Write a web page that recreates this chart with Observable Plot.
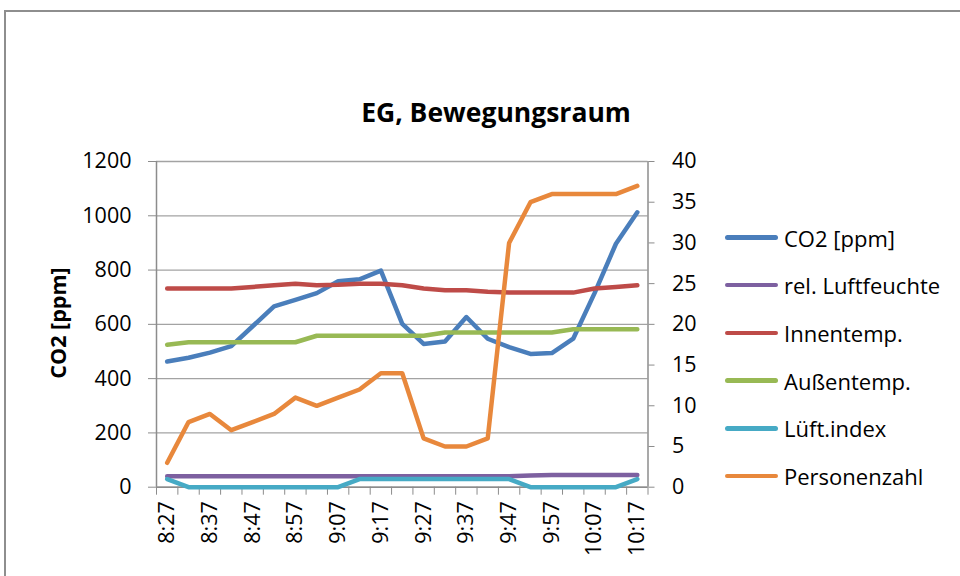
<!DOCTYPE html>
<html><head><meta charset="utf-8">
<script src="https://cdn.jsdelivr.net/npm/d3@7"></script>
<script src="https://cdn.jsdelivr.net/npm/@observablehq/plot@0.6"></script>
<style>
html,body{margin:0;padding:0;background:#fff;overflow:hidden}
#wrap{position:relative;width:960px;height:576px;overflow:hidden;font-family:"Open Sans",sans-serif;color:#000}
#frame{position:absolute;left:4px;top:10px;width:1200px;height:800px;border-top:2px solid #8e8e8e;border-left:2px solid #8e8e8e}
#chart{position:absolute;left:0;top:0}
#title{position:absolute;left:0;width:992px;top:99px;text-align:center;font-weight:700;font-size:26.5px;line-height:26px;white-space:nowrap}
#ylabel{position:absolute;left:57px;top:323px;transform:translate(-50%,-50%) rotate(-90deg);font-weight:700;font-size:21.5px;white-space:nowrap;line-height:21px}
.lg{position:absolute;left:725px;height:48px;display:flex;align-items:center;font-size:22px;white-space:nowrap}
.lg span.sw{display:inline-block;width:53px;height:4.5px;border-radius:3px;margin-right:6px}
</style></head>
<body>
<div id="wrap">
  <div id="frame"></div>
  <div id="chart"></div>
  <div id="title">EG, Bewegungsraum</div>
  <div id="ylabel">CO2 [ppm]</div>
  <div id="legend"></div>
</div>
<script>
// Categories (every 5 minutes)
const times = ["8:27","8:32","8:37","8:42","8:47","8:52","8:57","9:02","9:07","9:12","9:17","9:22","9:27","9:32","9:37","9:42","9:47","9:52","9:57","10:02","10:07","10:12","10:17"];
// Series values
const co2 =       [463, 477, 496, 520, 593, 666, 690, 715, 759, 766, 798, 602, 528, 537, 627, 547, 516, 491, 494, 547, 715, 897, 1013];
const relFeuchte = [40, 40, 40, 40, 40, 40, 40, 40, 40, 40, 40, 40, 40, 40, 40, 40, 40, 43, 45, 45, 45, 45, 45];
const innentemp = [24.4, 24.4, 24.4, 24.4, 24.6, 24.8, 25.0, 24.8, 24.85, 25.0, 25.0, 24.8, 24.4, 24.2, 24.2, 24.0, 23.9, 23.9, 23.9, 23.9, 24.4, 24.6, 24.8];
const aussentemp = [17.5, 17.8, 17.8, 17.8, 17.8, 17.8, 17.8, 18.6, 18.6, 18.6, 18.6, 18.6, 18.6, 19.0, 19.0, 19.0, 19.0, 19.0, 19.0, 19.4, 19.4, 19.4, 19.4];
const lueftIndex = [1, 0, 0, 0, 0, 0, 0, 0, 0, 1, 1, 1, 1, 1, 1, 1, 1, 0, 0, 0, 0, 0, 1];
const personen =  [3, 8, 9, 7, 8, 9, 11, 10, 11, 12, 14, 14, 6, 5, 5, 6, 30, 35, 36, 36, 36, 36, 37];
// Axis ticks
const leftTicks = [0, 200, 400, 600, 800, 1000, 1200];
const rightTicks = [0, 5, 10, 15, 20, 25, 30, 35, 40];
// Series names / colors / axis (left = primary, right = secondary)
const seriesNames = ["CO2 [ppm]", "rel. Luftfeuchte", "Innentemp.", "Außentemp.", "Lüft.index", "Personenzahl"];
const seriesColors = ["#4A7EBB", "#7D60A0", "#BE4B48", "#98B954", "#46AAC5", "#E8883C"];
const seriesAxis = ["left", "left", "right", "right", "right", "right"];
const seriesValues = [co2, relFeuchte, innentemp, aussentemp, lueftIndex, personen];

const k = leftTicks[leftTicks.length - 1] / rightTicks[rightTicks.length - 1]; // secondary -> primary
const idx = times.map((_, i) => i);
const bounds = times.map((_, i) => i - 0.5).concat([times.length - 0.5]);
const labelIdx = idx.filter(i => i % 2 === 0);
const gridGray = "#a3a3a3", axisGray = "#8c8c8c";

const lineMarks = seriesValues.map((vals, s) => Plot.line(idx, {
  x: i => i,
  y: i => seriesAxis[s] === "left" ? vals[i] : vals[i] * k,
  stroke: seriesColors[s], strokeWidth: 4.5, strokeLinecap: "round", strokeLinejoin: "round"
}));

const chart = Plot.plot({
  width: 960, height: 576,
  marginLeft: 156, marginRight: 312.5, marginTop: 161, marginBottom: 89.3,
  style: {fontFamily: "'Open Sans', sans-serif", fontSize: "21px", background: "transparent", overflow: "visible", color: "#000"},
  x: {type: "linear", domain: [-0.5, times.length - 0.5], axis: null},
  y: {type: "linear", domain: [0, leftTicks[leftTicks.length - 1]], axis: null},
  marks: [
    Plot.gridY(leftTicks, {stroke: gridGray, strokeOpacity: 1, strokeWidth: 1.3}),
    Plot.ruleX([-0.5], {stroke: axisGray, strokeWidth: 1.5}),
    Plot.ruleX([times.length - 0.5], {stroke: axisGray, strokeWidth: 1.5}),
    Plot.ruleY([0], {stroke: axisGray, strokeWidth: 1.5}),
    Plot.axisY(leftTicks, {anchor: "left", tickSize: 8, tickPadding: 17, stroke: axisGray, fill: "#000", fontSize: 21.5, tickFormat: d => String(d), label: null}),
    Plot.axisY(rightTicks.map(v => v * k), {anchor: "right", tickSize: 6, tickPadding: 18, stroke: axisGray, fill: "#000", fontSize: 21.5, tickFormat: d => String(Math.round(d / k)), label: null}),
    Plot.axisX(bounds, {anchor: "bottom", tickSize: 8, stroke: axisGray, tickFormat: () => "", label: null}),
    Plot.axisX(labelIdx, {anchor: "bottom", tickSize: 0, tickPadding: 14, tickRotate: -90, fill: "#000", fontSize: 21.5, tickFormat: i => times[i], label: null}),
    ...lineMarks
  ]
});
document.getElementById("chart").appendChild(chart);

// Legend
const legend = document.getElementById("legend");
seriesNames.forEach((name, s) => {
  const row = document.createElement("div");
  row.className = "lg";
  row.style.top = (213.5 + 47.7 * s) + "px";
  const sw = document.createElement("span");
  sw.className = "sw";
  sw.style.background = seriesColors[s];
  row.appendChild(sw);
  row.appendChild(document.createTextNode(name));
  legend.appendChild(row);
});
</script>
</body></html>
